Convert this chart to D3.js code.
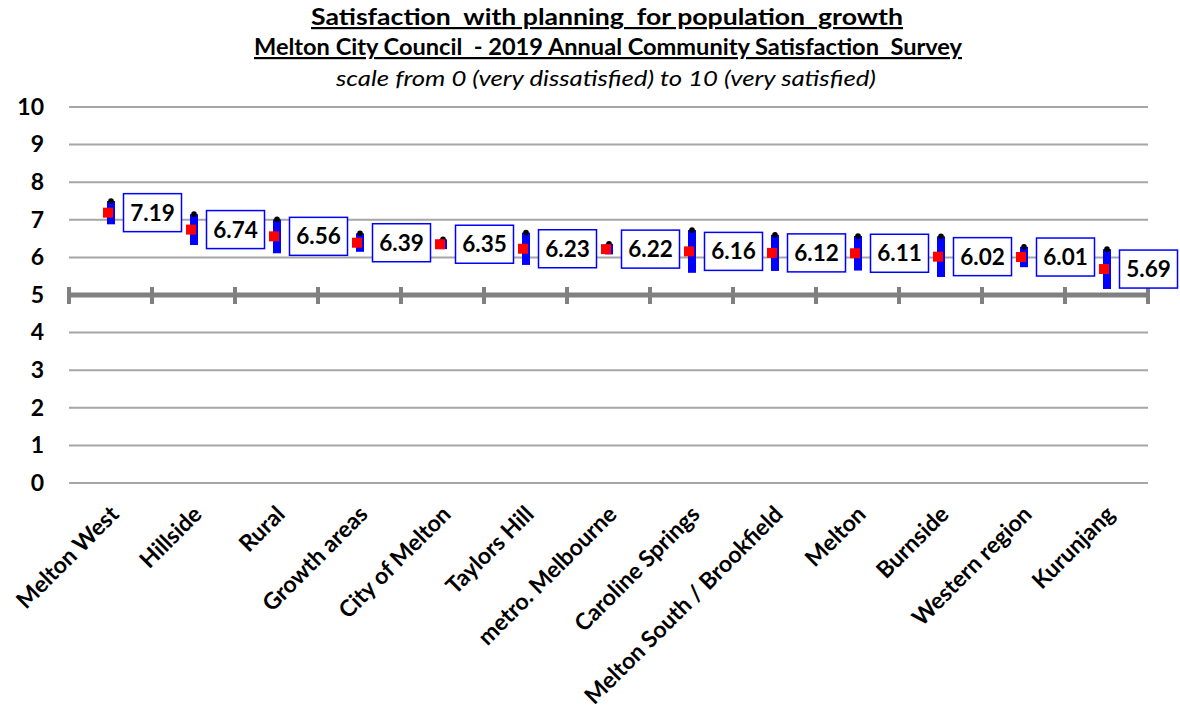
<!DOCTYPE html>
<html>
<head>
<meta charset="utf-8">
<script src="https://cdn.jsdelivr.net/npm/d3@7"></script>
<style>
  html, body { margin: 0; padding: 0; background: #fff; }
  svg { display: block; font-family: Lato, "Open Sans", sans-serif; font-variant-numeric: tabular-nums; }
</style>
</head>
<body>
<svg id="chart" width="1180" height="720"></svg>
<script>
// Areas, ordered by mean satisfaction
const categories = ["Melton West", "Hillside", "Rural", "Growth areas", "City of Melton",
  "Taylors Hill", "metro. Melbourne", "Caroline Springs", "Melton South / Brookfield",
  "Melton", "Burnside", "Western region", "Kurunjang"];
// Mean score (0-10)
const means = [7.19, 6.74, 6.56, 6.39, 6.35, 6.23, 6.22, 6.16, 6.12, 6.11, 6.02, 6.01, 5.69];
// 95% confidence interval bounds
const lower = [6.88, 6.33, 6.11, 6.15, 6.22, 5.80, 6.08, 5.59, 5.64, 5.65, 5.48, 5.74, 5.16];
const upper = [7.50, 7.15, 7.01, 6.64, 6.48, 6.66, 6.36, 6.73, 6.60, 6.57, 6.56, 6.28, 6.22];
const yTicks = [0, 1, 2, 3, 4, 5, 6, 7, 8, 9, 10];
const baseline = 5;

const rows = categories.map((c, i) => ({ name: c, mean: means[i], lo: lower[i], hi: upper[i] }));

const svg = d3.select("#chart");
const plotLeft = 69, plotRight = 1148, plotTop = 107, plotBottom = 483;

const x = d3.scaleBand().domain(categories).range([plotLeft, plotRight]).padding(0);
const y = d3.scaleLinear().domain([0, 10]).range([plotBottom, plotTop]);

// Titles (each line fitted to its own width)
const titleLines = [
  { text: "Satisfaction  with planning  for population  growth", cx: 607, y: 25, w: 592, bold: true },
  { text: "Melton City Council  - 2019 Annual Community Satisfaction  Survey", cx: 608, y: 55, w: 708, bold: true },
  { text: "scale from 0 (very dissatisfied) to 10 (very satisfied)", cx: 606, y: 86, w: 540, bold: false }
];
svg.append("g").selectAll("text").data(titleLines).join("text")
  .attr("x", d => d.cx - d.w / 2).attr("y", d => d.y)
  .attr("font-size", 22)
  .attr("font-weight", d => d.bold ? "bold" : "normal")
  .attr("font-style", d => d.bold ? "normal" : "italic")
  .attr("text-decoration", d => d.bold ? "underline" : "none")
  .attr("textLength", d => d.w).attr("lengthAdjust", "spacingAndGlyphs")
  .attr("xml:space", "preserve")
  .text(d => d.text);

// Horizontal gridlines
svg.append("g").selectAll("line").data(yTicks.filter(t => t !== baseline)).join("line")
  .attr("x1", plotLeft).attr("x2", plotRight)
  .attr("y1", d => y(d)).attr("y2", d => y(d))
  .attr("stroke", "#a6a6a6").attr("stroke-width", 2);

// Y axis labels
const yAxis = d3.axisLeft(y).tickValues(yTicks).tickSize(0).tickPadding(0).tickFormat(d3.format("d"));
const yg = svg.append("g").attr("transform", `translate(${44},0)`).call(yAxis);
yg.select(".domain").remove();
yg.selectAll("text").attr("font-size", 23).attr("font-weight", "bold")
  .attr("font-family", "Lato, 'Open Sans', sans-serif").attr("fill", "#000");

// Category axis drawn at the baseline value
const axisG = svg.append("g");
axisG.append("line").attr("x1", plotLeft).attr("x2", plotRight)
  .attr("y1", y(baseline)).attr("y2", y(baseline))
  .attr("stroke", "#808080").attr("stroke-width", 5);
const boundaries = categories.map(c => x(c)).concat([plotRight]);
axisG.selectAll("line.tick").data(boundaries).join("line").attr("class", "tick")
  .attr("x1", d => d).attr("x2", d => d)
  .attr("y1", y(baseline) - 8).attr("y2", y(baseline) + 9)
  .attr("stroke", "#808080").attr("stroke-width", 4);

// Category labels, rotated
svg.append("g").selectAll("text").data(categories).join("text")
  .attr("transform", d => `translate(${x(d) + x.bandwidth() / 2 + 4},${510}) rotate(-45)`)
  .attr("text-anchor", "end").attr("dy", "0.35em")
  .attr("font-size", 23).attr("font-weight", "bold").text(d => d);

// Marks
const g = svg.append("g").selectAll("g").data(rows).join("g")
  .attr("transform", d => `translate(${x(d.name) + x.bandwidth() / 2},0)`);

g.append("rect").attr("x", -3.5).attr("width", 8)
  .attr("y", d => y(d.hi)).attr("height", d => y(d.lo) - y(d.hi))
  .attr("fill", "#0000ff");
g.append("circle").attr("cx", 0.5).attr("cy", d => y(d.hi)).attr("r", 2.8).attr("fill", "#000");
g.append("rect").attr("x", -7.5).attr("width", 10).attr("height", 10)
  .attr("y", d => y(d.mean) - 5).attr("fill", "#ff0000");

// Value labels
g.append("rect").attr("x", 13).attr("width", 58).attr("height", 38)
  .attr("y", d => y(d.mean) - 19).attr("fill", "#fff")
  .attr("stroke", "#0000ff").attr("stroke-width", 1.5);
g.append("text").attr("x", 42).attr("y", d => y(d.mean)).attr("dy", "0.36em")
  .attr("text-anchor", "middle").attr("font-size", 22.5).attr("font-weight", "bold")
  .text(d => d3.format(".2f")(d.mean));
</script>
</body>
</html>
